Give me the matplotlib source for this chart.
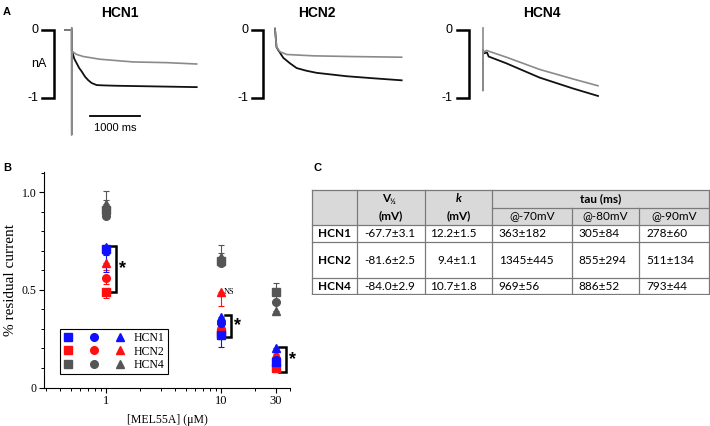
"""
HCN traces, MEL55A dose response en tabel met kinetiek.
"""

import matplotlib
matplotlib.use("Agg")
import matplotlib.pyplot as plt
import matplotlib.ticker as ticker
from matplotlib.lines import Line2D
from matplotlib.legend_handler import HandlerTuple
from matplotlib.patches import Rectangle

W, H = 710, 426

# ---- panel A: stroomtraces (ms, nA) ----
hcn1_t_black = [-130, 0, 0, 20, 50, 100, 150, 200, 270, 333, 400, 500, 650, 900, 2500]
hcn1_i_black = [0, 0, -0.30, -0.34, -0.42, -0.49, -0.56, -0.61, -0.69, -0.74, -0.78, -0.81, -0.815, -0.82, -0.84]
hcn1_t_gray = [-130, 0, 0, 0, 0, 20, 100, 233, 567, 1233, 1900, 2500]
hcn1_i_gray = [0, 0, 0.03, -1.54, -0.30, -0.32, -0.36, -0.39, -0.43, -0.47, -0.48, -0.50]

hcn2_t_black = [0, 30, 60, 167, 300, 433, 633, 833, 1433, 1967, 2533]
hcn2_i_black = [0.02, -0.25, -0.29, -0.41, -0.49, -0.56, -0.60, -0.63, -0.68, -0.71, -0.74]
hcn2_t_gray = [0, 30, 100, 233, 767, 1500, 2533]
hcn2_i_gray = [0.02, -0.25, -0.32, -0.36, -0.38, -0.39, -0.40]

hcn4_t_black = [33, 80, 113, 467, 1133, 1800, 2300]
hcn4_i_black = [-0.34, -0.33, -0.39, -0.49, -0.70, -0.86, -0.97]
hcn4_t_gray = [0, 0, 0, 33, 67, 467, 1133, 1800, 2300]
hcn4_i_gray = [0.03, -0.89, -0.30, -0.32, -0.30, -0.40, -0.58, -0.72, -0.82]

# ---- panel B: residuele stroom ----
conc = [1, 10, 30]
hcn1_sq = [0.71, 0.27, 0.13]
hcn1_ci = [0.70, 0.33, 0.14]
hcn1_tr = [0.72, 0.36, 0.20]
hcn1_sq_err = [0.03, 0.06, 0.02]
hcn1_ci_err = [0.11, 0.04, 0.02]
hcn1_tr_err = [0.03, 0.03, 0.02]
hcn2_sq = [0.49, 0.28, 0.10]
hcn2_ci = [0.56, 0.30, 0.12]
hcn2_tr = [0.64, 0.49, 0.17]
hcn2_sq_err = [0.03, 0.03, 0.01]
hcn2_ci_err = [0.03, 0.03, 0.02]
hcn2_tr_err = [0.04, 0.07, 0.02]
hcn4_sq = [0.91, 0.65, 0.49]
hcn4_ci = [0.88, 0.64, 0.44]
hcn4_tr = [0.94, 0.67, 0.39]
hcn4_sq_err = [0.05, 0.04, 0.045]
hcn4_ci_err = [0.03, 0.03, 0.03]
hcn4_tr_err = [0.07, 0.06, 0.05]
# significantie haken (onder, boven)
sig_lo = [0.49, 0.26, 0.08]
sig_hi = [0.725, 0.37, 0.21]

# ---- panel C: tabel ----
col_headers = ["V", "k", "tau (ms)"]
sub_headers = ["@-70mV", "@-80mV", "@-90mV"]
row_labels = ["HCN1", "HCN2", "HCN4"]
v_half = ["-67.7\u00b13.1", "-81.6\u00b12.5", "-84.0\u00b12.9"]
k_vals = ["12.2\u00b11.5", "9.4\u00b11.1", "10.7\u00b11.8"]
tau70 = ["363\u00b1182", "1345\u00b1445", "969\u00b156"]
tau80 = ["305\u00b184", "855\u00b1294", "886\u00b152"]
tau90 = ["278\u00b160", "511\u00b1134", "793\u00b144"]


def box(x0, y0, x1, y1):
    """pixel box (links-boven, rechts-onder) naar figuurfracties"""
    return [x0 / W, 1 - y1 / H, (x1 - x0) / W, (y1 - y0) / H]


fig = plt.figure(figsize=(7.1, 4.26), dpi=100)
sans = "Liberation Sans"
serif = "Liberation Serif"

for lab, x, y in [("A", 3, 12), ("B", 3, 168), ("C", 313, 168)]:
    fig.text(x / W, 1 - y / H, lab, fontsize=8, fontweight="bold", family=sans, va="center")

# panel A
traces = [
    ("HCN1", 71.7, 54, 42, hcn1_t_black, hcn1_i_black, hcn1_t_gray, hcn1_i_gray),
    ("HCN2", 275, 263, 252, hcn2_t_black, hcn2_i_black, hcn2_t_gray, hcn2_i_gray),
    ("HCN4", 483, 469, 457, hcn4_t_black, hcn4_i_black, hcn4_t_gray, hcn4_i_gray),
]
title_x = [120, 317, 542]
for n, (naam, t0, bar_x, tick_x, tb, ib, tg, ig) in enumerate(traces):
    ax = fig.add_axes(box(t0 - 60, 20, t0 + 140, 145))
    ax.set_xlim(-1200, 2800)
    ax.set_ylim(-115 / 68, 10 / 68)
    ax.set_axis_off()
    ax.plot(tb, ib, color="#111111", lw=1.3)
    ax.plot(tg, ig, color="#8a8a8a", lw=1.2)
    bx = (bar_x - t0) * 20
    tx = (tick_x - t0) * 20
    ax.plot([tx, bx, bx, tx], [0, 0, -1, -1], color="black", lw=1.8, solid_joinstyle="miter")
    ax.text(tx - 80, 0, "0", ha="right", va="center", fontsize=9, family=sans)
    ax.text(tx - 80, -1, "-1", ha="right", va="center", fontsize=9, family=sans)
    if naam == "HCN1":
        ax.text(tx - 60, -0.5, "nA", ha="center", va="center", fontsize=9, family=sans)
        ax.plot([366, 1366], [-1.26, -1.26], color="black", lw=1.3)
        ax.text(866, -1.44, "1000 ms", ha="center", va="center", fontsize=8, family=sans)
    fig.text(title_x[n] / W, 1 - 13 / H, naam, ha="center", va="center",
             fontsize=10, fontweight="bold", family=sans)

# panel B
axb = fig.add_axes(box(44, 172, 290, 387.5))
axb.set_xscale("log")
axb.set_xlim(0.29, 40)
axb.set_ylim(0, 1.105)

kleur = {"HCN1": "#1010ff", "HCN2": "#ff1010", "HCN4": "#555555"}
# HCN4 foutbalken omhoog, HCN1/HCN2 omlaag
reeksen = [
    ("HCN4", "up", [hcn4_sq, hcn4_ci, hcn4_tr], [hcn4_sq_err, hcn4_ci_err, hcn4_tr_err]),
    ("HCN2", "down", [hcn2_sq, hcn2_ci, hcn2_tr], [hcn2_sq_err, hcn2_ci_err, hcn2_tr_err]),
    ("HCN1", "down", [hcn1_sq, hcn1_ci, hcn1_tr], [hcn1_sq_err, hcn1_ci_err, hcn1_tr_err]),
]
for naam, kant, waarden, fouten in reeksen:
    for m, y, e in zip(["s", "o", "^"], waarden, fouten):
        nul = [0] * len(e)
        yerr = [nul, e] if kant == "up" else [e, nul]
        axb.errorbar(conc, y, yerr=yerr, fmt=m, color=kleur[naam], ms=5.5,
                     elinewidth=0.8, capsize=2, capthick=0.8, mec=kleur[naam])

for c, lo, hi in zip(conc, sig_lo, sig_hi):
    axb.plot([c * 1.08, c * 1.22, c * 1.22, c * 1.08], [hi, hi, lo, lo],
             color="black", lw=1.8, solid_joinstyle="miter")
    axb.text(c * 1.3, (lo + hi) / 2, "*", fontsize=13, fontweight="bold",
             ha="left", va="center", family=sans)
axb.text(10 * 1.05, hcn2_tr[1], "NS", fontsize=6, family=serif, ha="left", va="center")

axb.spines["top"].set_visible(False)
axb.spines["right"].set_visible(False)
axb.xaxis.set_major_locator(ticker.FixedLocator([1, 10, 30]))
axb.xaxis.set_major_formatter(ticker.FixedFormatter(["1", "10", "30"]))
axb.xaxis.set_minor_locator(ticker.LogLocator(subs=range(2, 10), numticks=20))
axb.xaxis.set_minor_formatter(ticker.NullFormatter())
axb.set_yticks([0, 0.5, 1.0])
axb.set_yticklabels(["0", "0.5", "1.0"])
axb.yaxis.set_minor_locator(ticker.MultipleLocator(0.1))
axb.tick_params(which="major", length=3.5, width=0.8, pad=2)
axb.tick_params(which="minor", length=2, width=0.7)
axb.tick_params(axis="x", labelsize=9)
axb.tick_params(axis="y", labelsize=8.5)
for lbl in axb.get_xticklabels() + axb.get_yticklabels():
    lbl.set_family(serif)
axb.set_xlabel("[MEL55A] (\u03bcM)", fontsize=8.5, family=serif, labelpad=5)
axb.set_ylabel("% residual current", fontsize=11, family=serif, labelpad=3)

handles = []
for naam in ["HCN1", "HCN2", "HCN4"]:
    handles.append(tuple(Line2D([], [], ls="none", marker=m, ms=5.5, color=kleur[naam])
                         for m in ["s", "o", "^"]))
leg = axb.legend(handles, ["HCN1", "HCN2", "HCN4"],
                 handler_map={tuple: HandlerTuple(ndivide=None, pad=1.4)},
                 loc="lower left", bbox_to_anchor=(0.066, 0.064), handlelength=5.2,
                 fancybox=False, edgecolor="black", framealpha=1,
                 prop={"family": serif, "size": 8.5}, borderpad=0.25,
                 labelspacing=0.1, handletextpad=0.8, borderaxespad=0)
leg.get_frame().set_linewidth(0.8)

# panel C: tabel in pixelcoordinaten
axt = fig.add_axes(box(311, 189, 710, 295))
axt.set_xlim(311, 710)
axt.set_ylim(295, 189)
axt.set_axis_off()
cols = [311.7, 357.3, 425, 491.7, 571.7, 639.3, 709.3]
rows = [190, 207.7, 225, 241.7, 278.3, 294]
lijn = dict(color="#7a7a7a", lw=0.9)
axt.add_patch(Rectangle((cols[0], rows[0]), cols[-1] - cols[0], rows[2] - rows[0],
                        facecolor="#d9d9d9", edgecolor="none"))
for y in [rows[0], rows[2], rows[3], rows[4], rows[5]]:
    axt.plot([cols[0], cols[-1]], [y, y], **lijn)
axt.plot([cols[3], cols[-1]], [rows[1], rows[1]], **lijn)
for x in [cols[0], cols[1], cols[2], cols[3], cols[-1]]:
    axt.plot([x, x], [rows[0], rows[-1]], **lijn)
for x in [cols[4], cols[5]]:
    axt.plot([x, x], [rows[1], rows[-1]], **lijn)

tf = "Lato"
fs = 8.5
xv = (cols[1] + cols[2]) / 2
axt.text(xv - 1, 199, "V", ha="right", va="center", fontsize=fs, fontweight="bold", family=tf)
axt.text(xv - 1, 201.5, "\u00bd", ha="left", va="center", fontsize=5.5, fontweight="bold", family=tf)
axt.text(xv, 216, "(mV)", ha="center", va="center", fontsize=fs, fontweight="bold", family=tf)
xk = (cols[2] + cols[3]) / 2
axt.text(xk, 199, col_headers[1], ha="center", va="center", fontsize=fs,
         fontweight="bold", style="italic", family=tf)
axt.text(xk, 216, "(mV)", ha="center", va="center", fontsize=fs, fontweight="bold", family=tf)
axt.text((cols[3] + cols[-1]) / 2, 199, col_headers[2], ha="center", va="center",
         fontsize=fs, fontweight="bold", family=tf)
for j, s in enumerate(sub_headers):
    axt.text((cols[3 + j] + cols[4 + j]) / 2, 216, s, ha="center", va="center", fontsize=fs, family=tf)

for i, naam in enumerate(row_labels):
    yc = (rows[2 + i] + rows[3 + i]) / 2
    axt.text(cols[0] + 6, yc, naam, ha="left", va="center", fontsize=fs, fontweight="bold", family=tf)
    axt.text(cols[1] + 7, yc, v_half[i], ha="left", va="center", fontsize=fs, family=tf)
    # k kolom rechts uitgelijnd
    axt.text(cols[3] - 15, yc, k_vals[i], ha="right", va="center", fontsize=fs, family=tf)
    for j, s in enumerate([tau70[i], tau80[i], tau90[i]]):
        axt.text(cols[3 + j] + 7, yc, s, ha="left", va="center", fontsize=fs, family=tf)

fig.savefig("out.png", dpi=100)
